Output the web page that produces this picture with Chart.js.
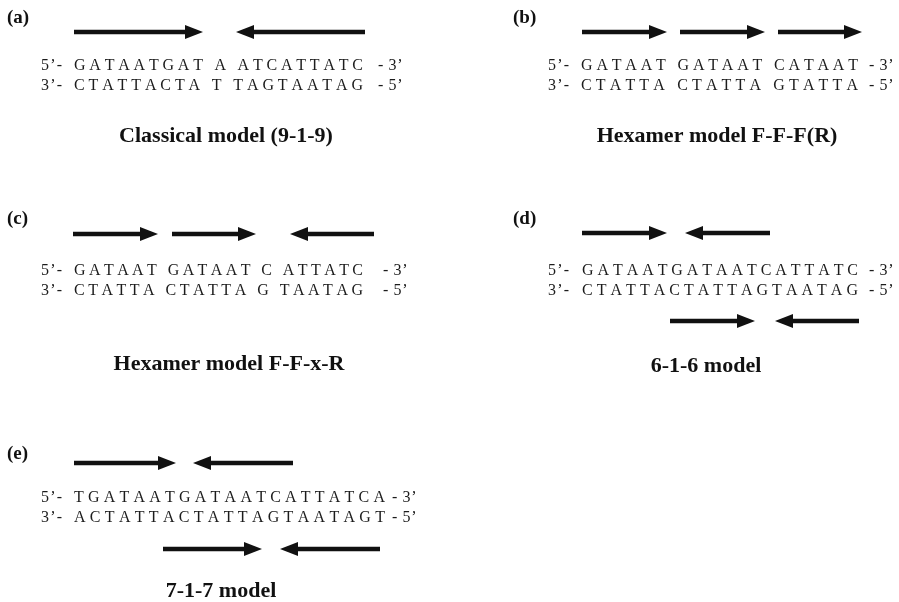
<!DOCTYPE html>
<html>
<head>
<meta charset="utf-8">
<title>Palindromic site models</title>
<script src="https://cdn.jsdelivr.net/npm/chart.js@4.4.1/dist/chart.umd.min.js"></script>
<style>
  html, body { margin: 0; padding: 0; background: #fff; }
  #wrap { width: 899px; height: 602px; }
  canvas { display: block; }
</style>
</head>
<body>
<div id="wrap"><canvas id="diagram" width="899" height="602"></canvas></div>
<script>
// Panel tags and model names
const panelTags = ['(a)', '(b)', '(c)', '(d)', '(e)'];
const modelNames = ['Classical model (9-1-9)', 'Hexamer model F-F-F(R)', 'Hexamer model F-F-x-R', '6-1-6 model', '7-1-7 model'];

// Duplex sequences: top strand 5'->3', bottom strand 3'->5' (spaces split the half-sites)
const topStrands = ['GATAATGAT A ATCATTATC', 'GATAAT GATAAT CATAAT', 'GATAAT GATAAT C ATTATC', 'GATAATGATAATCATTATC', 'TGATAATGATAATCATTATCA'];
const bottomStrands = ['CTATTACTA T TAGTAATAG', 'CTATTA CTATTA GTATTA', 'CTATTA CTATTA G TAATAG', 'CTATTACTATTAGTAATAG', 'ACTATTACTATTAGTAATAGT'];
const strandEnds = [['5\u2019-', '- 3\u2019'], ['3\u2019-', '- 5\u2019']];

// Half-site arrows of each panel: [tail, tip, row]
const arrowSpans = [
  [[74, 203, 32], [365, 236, 32]],
  [[582, 667, 32], [680, 765, 32], [778, 862, 32]],
  [[73, 158, 234], [172, 256, 234], [374, 290, 234]],
  [[582, 667, 233], [770, 685, 233], [670, 755, 321], [859, 775, 321]],
  [[74, 176, 463], [293, 193, 463], [163, 262, 549], [380, 280, 549]]
];

// Where each panel's texts sit
const panelLayout = [
  { tag: [7, 23],   prefix: 41,  seq: [74, 363],  suffix: 378, rows: [70, 90],   caption: [226, 142] },
  { tag: [513, 23], prefix: 548, seq: [581, 858], suffix: 869, rows: [70, 90],   caption: [717, 142] },
  { tag: [7, 224],  prefix: 41,  seq: [74, 363],  suffix: 383, rows: [275, 295], caption: [229, 370] },
  { tag: [513, 224],prefix: 548, seq: [582, 858], suffix: 869, rows: [275, 295], caption: [706, 372] },
  { tag: [7, 459],  prefix: 41,  seq: [74, 385],  suffix: 392, rows: [502, 522], caption: [221, 597] }
];

const INK = '#111';
const HEAD_L = 18, HEAD_H = 14, SHAFT_W = 4.6;

// Arrowhead glyph: tip sits at the glyph centre so the point lands on the arrow tip
function makeHead() {
  const c = document.createElement('canvas');
  c.width = HEAD_L * 2;
  c.height = HEAD_H + 2;
  const g = c.getContext('2d');
  g.fillStyle = INK;
  g.beginPath();
  g.moveTo(0, 1);
  g.lineTo(HEAD_L, 1 + HEAD_H / 2);
  g.lineTo(0, 1 + HEAD_H);
  g.closePath();
  g.fill();
  return c;
}
const headGlyph = makeHead();

const allArrows = arrowSpans.flat();
const shaftSets = allArrows.map(([tail, tip, row]) => {
  const dir = Math.sign(tip - tail);
  return {
    data: [{ x: tail, y: row }, { x: tip - dir * (HEAD_L - 3), y: row }],
    showLine: true,
    borderColor: INK,
    borderWidth: SHAFT_W,
    borderCapStyle: 'butt',
    pointRadius: 0,
    order: 2
  };
});
const headSet = (dirSign, rotation) => ({
  data: allArrows.filter(([t, p]) => Math.sign(p - t) === dirSign).map(([t, p, r]) => ({ x: p, y: r })),
  showLine: false,
  pointStyle: headGlyph,
  pointRotation: rotation,
  pointRadius: 6,
  order: 1
});

function drawSpaced(ctx, text, x, y, gap) {
  for (const ch of text) {
    ctx.fillText(ch, x, y);
    x += ctx.measureText(ch).width + gap;
  }
}
function gapToFit(ctx, text, width) {
  const chars = [...text];
  let w = 0;
  chars.forEach(ch => { w += ctx.measureText(ch).width; });
  return (width - w) / (chars.length - 1);
}

const textLayer = {
  id: 'textLayer',
  afterDatasetsDraw(chart) {
    const { ctx, scales: { x, y } } = chart;
    ctx.save();
    ctx.textBaseline = 'alphabetic';
    panelLayout.forEach((p, i) => {
      // panel tag
      ctx.fillStyle = INK;
      ctx.textAlign = 'left';
      ctx.font = 'bold 19px "Liberation Serif", "Times New Roman", serif';
      ctx.fillText(panelTags[i], x.getPixelForValue(p.tag[0]), y.getPixelForValue(p.tag[1]));

      // duplex
      ctx.font = '16px "Liberation Serif", "Times New Roman", serif';
      ctx.fillStyle = '#1c1c1c';
      [topStrands[i], bottomStrands[i]].forEach((strand, k) => {
        const py = y.getPixelForValue(p.rows[k]);
        drawSpaced(ctx, strandEnds[k][0], x.getPixelForValue(p.prefix), py, 1.2);
        const x0 = x.getPixelForValue(p.seq[0]);
        const x1 = x.getPixelForValue(p.seq[1]);
        drawSpaced(ctx, strand, x0, py, gapToFit(ctx, strand, x1 - x0));
        drawSpaced(ctx, strandEnds[k][1], x.getPixelForValue(p.suffix), py, 0.6);
      });

      // model name
      ctx.fillStyle = INK;
      ctx.textAlign = 'center';
      ctx.font = 'bold 22px "Liberation Serif", "Times New Roman", serif';
      ctx.fillText(modelNames[i], x.getPixelForValue(p.caption[0]), y.getPixelForValue(p.caption[1]));
    });
    ctx.restore();
  }
};

new Chart(document.getElementById('diagram'), {
  type: 'scatter',
  data: { datasets: [...shaftSets, headSet(1, 0), headSet(-1, 180)] },
  options: {
    responsive: false,
    animation: false,
    devicePixelRatio: 1,
    events: [],
    layout: { padding: 0, autoPadding: false },
    scales: {
      x: { type: 'linear', min: 0, max: 899, display: false },
      y: { type: 'linear', min: 0, max: 602, reverse: true, display: false }
    },
    plugins: { legend: { display: false }, tooltip: { enabled: false } }
  },
  plugins: [textLayer]
});
</script>
</body>
</html>
